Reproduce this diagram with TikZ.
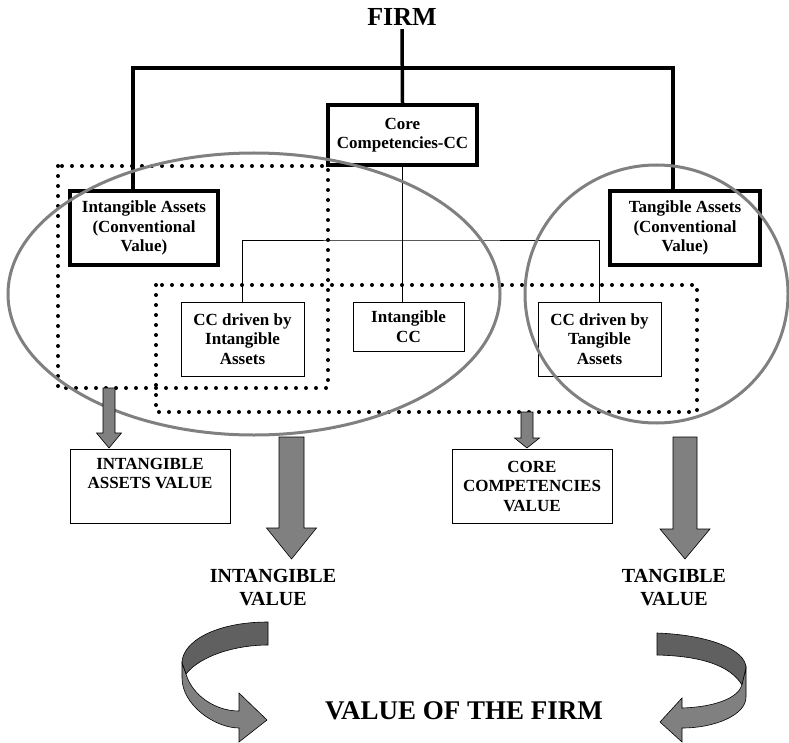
\documentclass[tikz,border=0pt]{standalone}
\usepackage{fontspec}
\setmainfont{Liberation Serif}
\usetikzlibrary{positioning}
\definecolor{ribbondark}{RGB}{96,96,96}
\definecolor{ribbonlight}{RGB}{128,128,128}
\newcommand{\boxfont}{\fontsize{17}{19.5}\selectfont\bfseries}
\newcommand{\labfont}{\fontsize{20}{23}\selectfont\bfseries}
% x, top, head base, tip, half shaft, half head
\newcommand{\fatarrow}[6]{%
  \draw[arrowfill] (#1-#5,#2) -- (#1-#5,#3) -- (#1-#6,#3) -- (#1,#4)
    -- (#1+#6,#3) -- (#1+#5,#3) -- (#1+#5,#2) -- cycle;}

\begin{document}
\begin{tikzpicture}[x=1pt,y=-1pt,
    thickbox/.style={draw, line width=4pt, align=center, font=\boxfont, inner sep=0pt},
    thinbox/.style={draw, line width=1pt, align=center, font=\boxfont, inner sep=0pt},
    link/.style={line width=3.5pt},
    thinlink/.style={line width=0.8pt},
    dotbox/.style={line width=4pt, dash pattern=on 0pt off 10pt, line cap=round},
    halo/.style={draw=gray, line width=3pt},
    arrowfill/.style={fill=ribbonlight, draw=black, line width=0.6pt, line join=miter}]
    \useasboundingbox (0,0) rectangle (789,743);

    % Titre
    \node[font=\fontsize{26}{28}\selectfont\bfseries] (firm) at (402,17) {FIRM};

    % Boites du haut
    \node[thickbox, minimum width=149pt, minimum height=60pt] (core) at (402.5,135)
        {Core\\Competencies-CC};
    \node[thickbox, minimum width=148pt, minimum height=74pt] (intang) at (144,228)
        {Intangible Assets\\(Conventional\\Value)};
    \node[thickbox, minimum width=150pt, minimum height=74pt] (tang) at (685,228)
        {Tangible Assets\\(Conventional\\Value)};

    % Boites CC
    \node[thinbox, minimum width=123pt, minimum height=74pt] (ccint) at (242.5,339)
        {CC driven by\\Intangible\\Assets};
    \node[thinbox, minimum width=111pt, minimum height=49pt] (intcc) at (408.5,326.5)
        {Intangible\\CC};
    \node[thinbox, minimum width=123pt, minimum height=74pt] (cctang) at (599.5,339)
        {CC driven by\\Tangible\\Assets};

    % Boites valeur
    \node[thinbox, minimum width=160pt, minimum height=74pt] (iav) at (150,486)
        {INTANGIBLE\\ASSETS VALUE\\\strut};
    \node[thinbox, minimum width=160pt, minimum height=74pt] (ccv) at (532,486)
        {CORE\\COMPETENCIES\\VALUE};

    % Etiquettes du bas
    \node[align=center, font=\labfont] (intval) at (273,588) {INTANGIBLE\\VALUE};
    \node[align=center, font=\labfont] (tangval) at (674,588) {TANGIBLE\\VALUE};
    \node[font=\fontsize{27}{30}\selectfont\bfseries] (fval) at (464,711) {VALUE OF THE FIRM};

    % Liens epais
    \coordinate (bar) at (402,68);
    \draw[link] (firm.south) -- (core.north);
    \draw[link] ([xshift=-11pt]intang.north) |- (bar) -| ([xshift=-12pt]tang.north);

    % Liens fins
    \coordinate (split) at (402.5,240);
    \draw[thinlink] (core.south) -- (core.south |- intcc.north);
    \draw[thinlink] (ccint.north) |- (split) -| (cctang.north);

    % Zones pointillees
    \draw[dotbox] (58,166) rectangle (328,388);
    \draw[dotbox] (156,285) rectangle (697,412);

    % Ellipses
    \draw[halo] (254,294) ellipse [x radius=246, y radius=141];
    \draw[halo] (656.5,294) ellipse [x radius=131.5, y radius=129];

    % Fleches
    \fatarrow{109}{388}{433}{448}{6}{12.5}
    \fatarrow{527}{412}{438}{448}{6}{12.5}
    \fatarrow{291.5}{437}{528}{559}{12.5}{25}
    \fatarrow{685}{437}{529}{559}{12}{25}

    % Fleche courbe gauche
    \draw[fill=ribbondark, line width=0.6pt] (268,622) .. controls (215,622) and (182,642) .. (182,663)
        -- (186,674) .. controls (200,656) and (235,645) .. (268,645) -- cycle;
    \draw[fill=ribbonlight, line width=0.6pt, line join=miter] (182,663) -- (182,678)
        .. controls (182,705) and (215,728) .. (239,728) -- (239,742) -- (267,720)
        -- (239,693) -- (239,711) .. controls (215,711) and (192,695) .. (186,674) -- cycle;

    % Fleche courbe droite
    \draw[fill=ribbondark, line width=0.6pt] (657,633) .. controls (710,635) and (746,650) .. (746,668)
        -- (742,685) .. controls (730,665) and (700,656) .. (657,655) -- cycle;
    \draw[fill=ribbonlight, line width=0.6pt, line join=miter] (746,668) -- (746,697)
        .. controls (746,715) and (715,728) .. (682,728) -- (682,742) -- (660,722)
        -- (682,698) -- (682,708) .. controls (715,707) and (738,698) .. (742,685) -- cycle;
\end{tikzpicture}
\end{document}
